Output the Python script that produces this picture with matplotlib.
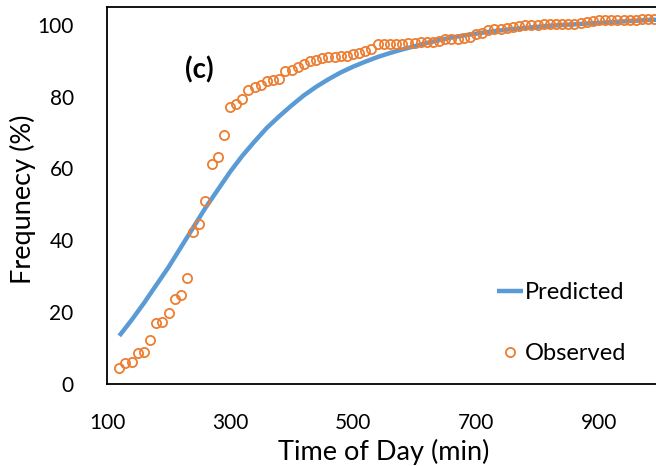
import matplotlib
matplotlib.use('Agg')
import matplotlib.pyplot as plt
from matplotlib.lines import Line2D

plt.rcParams['font.family'] = ['Lato', 'DejaVu Sans']

# observed cumulative frequency, one point every 10 min
obs_time = list(range(120, 1001, 10))
obs_freq = [4.5, 5.8, 6.2, 8.7, 8.9, 12.3, 17.1, 17.3, 19.7, 23.6,
            24.7, 29.5, 42.2, 44.6, 51.0, 61.3, 63.3, 69.4, 77.0, 77.8,
            79.2, 81.9, 82.7, 83.3, 84.4, 84.7, 85.0, 87.0, 87.5, 88.2,
            89.1, 89.8, 90.3, 90.8, 90.9, 91.1, 91.2, 91.4, 91.7, 92.2,
            92.6, 93.1, 94.5, 94.5, 94.5, 94.5, 94.7, 94.8, 95.0, 95.1,
            95.1, 95.1, 95.4, 95.9, 95.9, 96.1, 96.3, 96.6, 97.3, 97.7,
            98.4, 98.7, 98.9, 99.1, 99.4, 99.5, 99.8, 99.9, 100.0, 100.1,
            100.1, 100.2, 100.2, 100.3, 100.3, 100.5, 100.8, 101.1, 101.3, 101.3,
            101.3, 101.4, 101.4, 101.4, 101.4, 101.5, 101.5, 101.5, 101.5]

# model curve, every 20 min
pred_time = list(range(120, 1001, 20))
pred_freq = [13.4, 17.8, 22.5, 27.5, 32.5, 38.0, 43.5, 49.0, 54.0, 59.0,
             63.5, 67.5, 71.3, 74.5, 77.5, 80.3, 82.7, 84.8, 86.7, 88.3,
             89.7, 91.0, 92.1, 93.1, 94.0, 94.9, 95.7, 96.4, 97.0, 97.5,
             98.0, 98.4, 98.8, 99.1, 99.4, 99.7, 99.9, 100.1, 100.3, 100.5,
             100.7, 100.9, 101.1, 101.3, 101.4]

x_ticks = [100, 300, 500, 700, 900]
y_ticks = [0, 20, 40, 60, 80, 100]

blue = '#5B9BD5'
orange = '#ED7D31'

W, H = 656, 466
fig = plt.figure(figsize=(W / 100, H / 100), dpi=100)
# right edge sits past the figure border, so the right spine is cut off
ax = fig.add_axes([107 / W, 82 / H, 553.5 / W, 377.3 / H])

ax.plot(pred_time, pred_freq, color=blue, lw=3.2, solid_capstyle='butt', zorder=2)
ax.plot(obs_time, obs_freq, ls='none', marker='o', ms=6.6, mfc='none',
        mec=orange, mew=1.3, zorder=3, clip_on=False)

ax.set_xlim(100, 1000)
ax.set_ylim(0, 105)
ax.set_xticks(x_ticks)
ax.set_yticks(y_ticks)
ax.tick_params(length=0, labelsize=15, colors='black')
ax.tick_params(axis='x', pad=21)
ax.tick_params(axis='y', pad=24)

for side in ['left', 'bottom', 'top', 'right']:
    ax.spines[side].set_color('black')
    ax.spines[side].set_linewidth(1.3)

ax.set_xlabel('Time of Day (min)', fontsize=19.5)
ax.set_ylabel('Frequnecy (%)', fontsize=19.5)
ax.xaxis.set_label_coords(0.5, -0.146)
ax.yaxis.set_label_coords(-0.128, 0.49)

# panel tag, placed in display pixels
ax.text(199, H - 70, '(c)', transform=None, fontsize=20, fontweight='bold',
        ha='center', va='center')

handles = [Line2D([], [], color=blue, lw=3.2, solid_capstyle='butt'),
           Line2D([], [], ls='none', marker='o', ms=6.6, mfc='none',
                  mec=orange, mew=1.3)]
leg = ax.legend(handles, ['Predicted', 'Observed'], frameon=False,
                fontsize=17, handlelength=1.1, handletextpad=0.08,
                labelspacing=1.7, borderpad=0, borderaxespad=0,
                loc='upper left',
                bbox_to_anchor=((497 - 107) / 553.5, (384 - 282) / 377.3))

fig.savefig('out.png', dpi=100)
